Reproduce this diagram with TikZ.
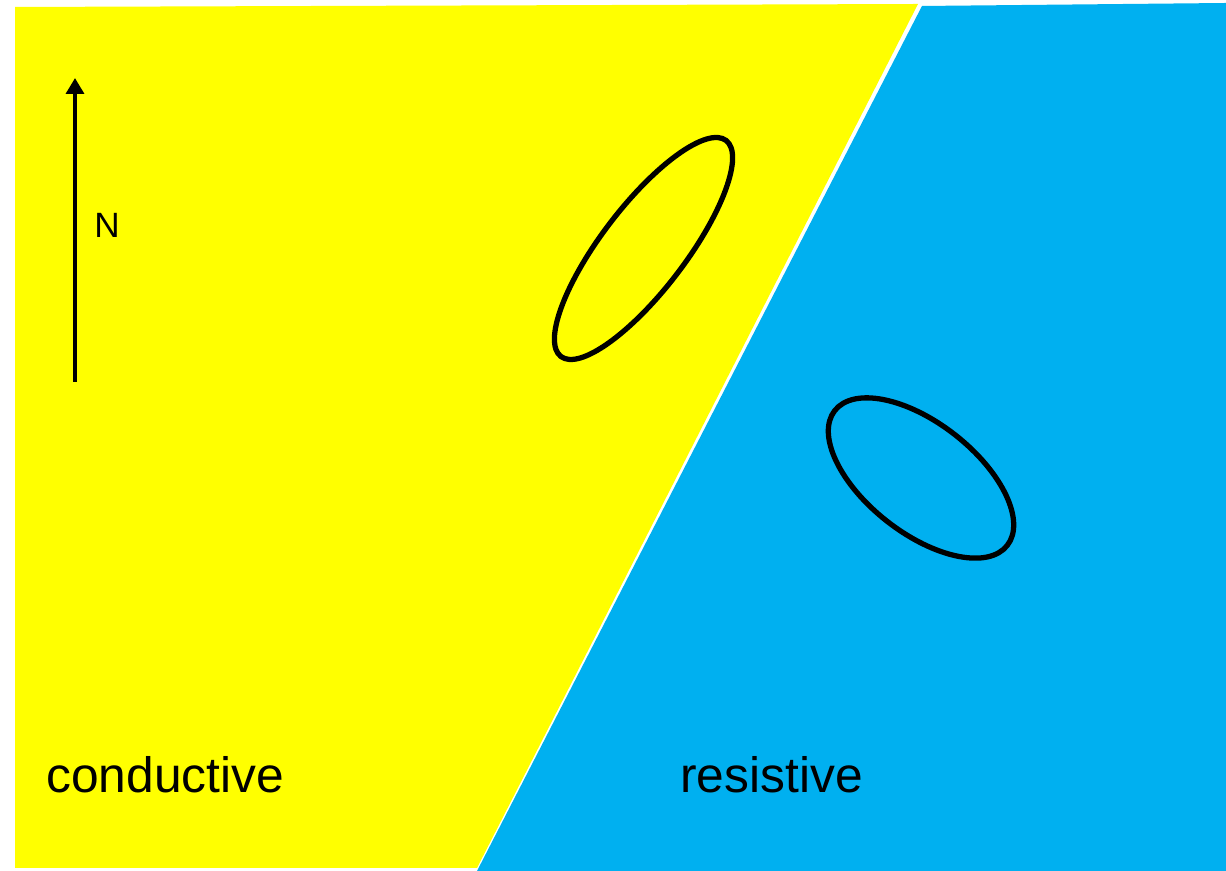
\documentclass[tikz,border=0pt]{standalone}
\usepackage{fontspec}
\setmainfont{Liberation Sans}
\usepackage{xcolor}
\usetikzlibrary{arrows.meta,positioning}

\definecolor{condyellow}{RGB}{255,255,0}
\definecolor{resblue}{RGB}{0,176,240}

\begin{document}
\begin{tikzpicture}[x=0.02cm, y=0.02cm,
  every node/.style={inner sep=0pt, text=black},
  body/.style={black, line width=3pt},
  northarrow/.style={black, line width=2.3pt, -{Triangle[width=10pt,length=9pt]}},
  zonelabel/.style={font=\fontsize{28.3}{30}\selectfont, anchor=base west}]

\useasboundingbox (0,0) rectangle (1226,871);

%% ── Conductive block (left) ──────────────────────────────────────────────────
\fill[condyellow] (15,864) -- (918,867) -- (477,3) -- (15,3) -- cycle;

%% ── Resistive block (right) ──────────────────────────────────────────────────
\fill[resblue] (922,865) -- (1226,868) -- (1226,0) -- (477,0) -- cycle;

%% ── North arrow ──────────────────────────────────────────────────────────────
\coordinate (arrowfoot) at (75,489);
\coordinate (arrowtip)  at (75,793);
\draw[northarrow] (arrowfoot) -- (arrowtip);
\node[font=\fontsize{20}{22}\selectfont] (north) at (107,646) {N};

%% ── Bodies ───────────────────────────────────────────────────────────────────
\draw[body, rotate around={52.6:(643.5,622.5)}]
  (643.5,622.5) ellipse [x radius=2.72cm, y radius=0.84cm];
\draw[body, rotate around={-38:(921,393)}]
  (921,393) ellipse [x radius=2.19cm, y radius=1.1cm];

%% ── Labels ───────────────────────────────────────────────────────────────────
\node[zonelabel] (condlab) at (46,78)  {conductive};
\node[zonelabel] (reslab)  at (680,78) {resistive};

\end{tikzpicture}
\end{document}
